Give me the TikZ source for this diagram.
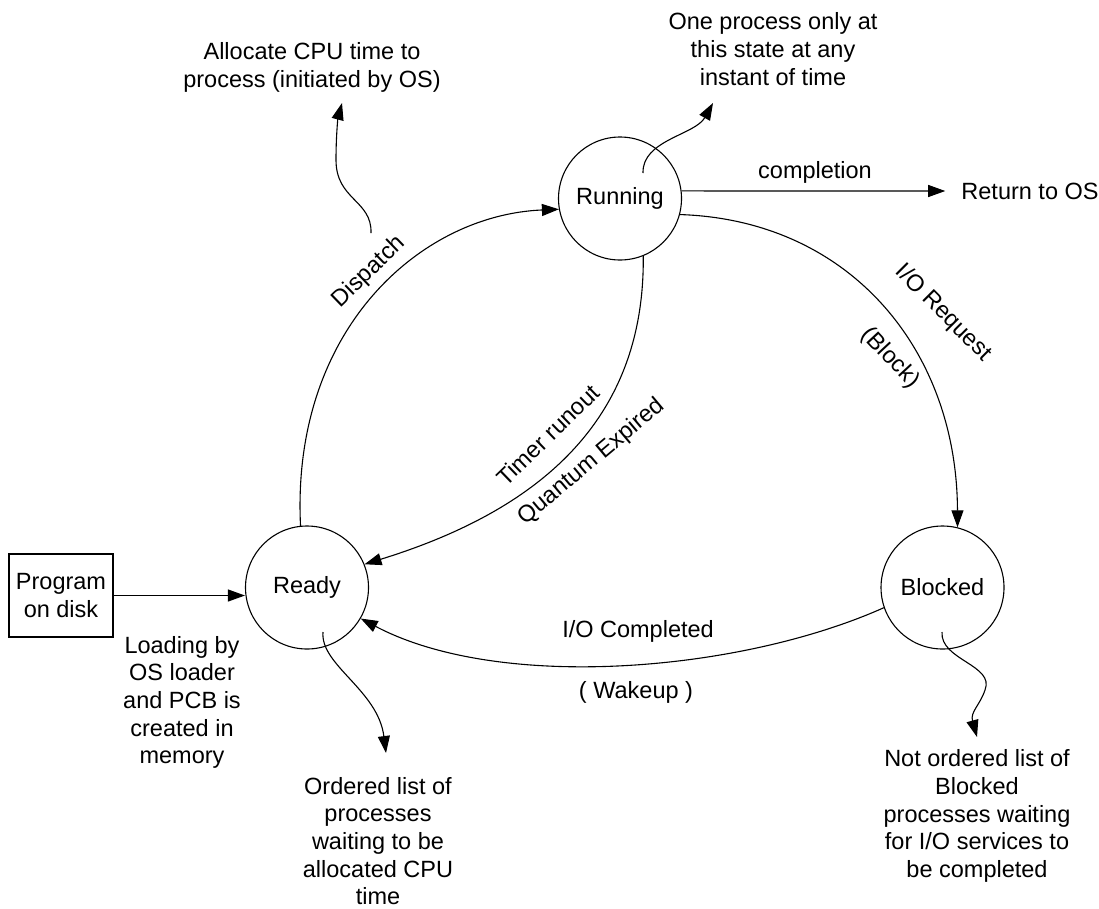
\documentclass[tikz,border=0pt]{standalone}
\usepackage{fontspec}
\setmainfont{Liberation Sans}
\usetikzlibrary{arrows.meta}
\begin{document}
\begin{tikzpicture}[x=1pt,y=-1pt,
  every node/.style={font=\fontsize{23.5}{27.7}\selectfont, align=center},
  state/.style={draw, circle, minimum size=123pt, inner sep=0pt, line width=1.1pt},
  flow/.style={line width=1.1pt, -{Triangle[length=17pt,width=12pt]}},
  note/.style={line width=1.1pt, -{Triangle[length=17pt,width=12pt]}},
  lbl/.style={inner sep=1pt},
  memo/.style={inner sep=0pt}
]
\useasboundingbox (0,0) rectangle (1099,908);

% process states
\node[state] (run)   at (620,198.5) {Running};
\node[state] (ready) at (307,587.5) {Ready};
\node[state] (blk)   at (942.5,587.5) {Blocked};
\node[draw, line width=1.1pt, minimum width=104pt, minimum height=83pt, inner sep=0pt]
  (prog) at (61,595.5) {Program\\on disk};
\node[inner xsep=16pt] (ret) at (1030,191) {Return to OS};

% annotations
\node[memo] (tAlloc)   at (312,67.5) {Allocate CPU time to\\process (initiated by OS)};
\node[memo] (tOne)     at (773,49)   {One process only at\\this state at any\\instant of time};
\node[memo] (tLoad)    at (182,702.5) {Loading by\\OS loader\\and PCB is\\created in\\memory};
\node[memo] (tOrdered) at (378,841)  {Ordered list of\\processes\\waiting to be\\allocated CPU\\time};
\node[memo] (tNot)     at (977,816)  {Not ordered list of\\Blocked\\processes waiting\\for I/O services to\\be completed};

% transition labels
\node[lbl, rotate=44]  (lDisp)  at (369,272) {Dispatch};
\node[lbl, rotate=44]  (lTimer) at (548,435) {Timer runout};
\node[lbl, rotate=40]  (lQuant) at (592,462) {Quantum Expired};
\node[lbl, rotate=-45] (lReq)   at (943,313) {I/O Request};
\node[lbl, rotate=-47] (lBlock) at (890,358) {(Block)};
\node[lbl] (lDone) at (638,631) {I/O Completed};
\node[lbl] (lWake) at (636,692) {( Wakeup )};
\node[lbl] (lComp) at (815,172) {completion};

% transitions
\draw[flow] (prog.east) -- (prog.east -| ready.west);
\draw[flow] (ready.96) .. controls (291,330) and (420,215) .. (run.190);
\draw[flow] (run.-68) .. controls (645,420) and (540,510) .. (ready.22);
\draw[flow] (run.-15) .. controls (850,220) and (957,350) .. (blk.76);
\draw[flow] (blk.-161) .. controls (740,672) and (500,692) .. (ready.-30);
\draw[flow] (run.7) -- (ret.west);

% note pointers
\coordinate (nRun0) at (643,173);
\coordinate (nRun1) at (713,103);
\draw[note] (nRun0) .. controls (642,140) and (695,135) .. (nRun1);

\coordinate (nDisp0) at (371,233);
\coordinate (nDisp1) at (342,103);
\draw[note] (nDisp0) .. controls (372,200) and (336,200) .. (336,160)
  .. controls (336,135) and (338,118) .. (nDisp1);

\coordinate (nReady0) at (323,632);
\coordinate (nReady1) at (386,753);
\draw[note] (nReady0) .. controls (320,665) and (378,690) .. (nReady1);

\coordinate (nBlk0) at (942,632);
\coordinate (nBlk1) at (977,737);
\draw[note] (nBlk0) .. controls (940,660) and (995,665) .. (985,690)
  .. controls (980,705) and (970,712) .. (nBlk1);
\end{tikzpicture}
\end{document}
